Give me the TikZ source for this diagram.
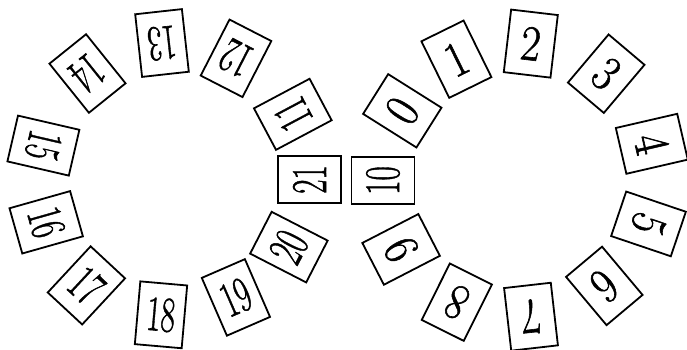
\documentclass[tikz,border=0pt]{standalone}
\usepackage{fontspec}
\usepackage{graphicx}
\newfontfamily\cardfont[FakeBold=1.2]{Latin Modern Roman}
\tikzset{
  card/.style={draw=black, line width=1.8pt, fill=white, minimum width=47pt, minimum height=63pt, inner sep=0pt, font=\cardfont\fontsize{50}{50}\selectfont},
}
\newcommand{\twod}[1]{\scalebox{0.62}[1]{#1}}
\newcommand{\oned}[1]{\scalebox{0.85}[1]{#1}}
\begin{document}
\begin{tikzpicture}[x=1pt,y=-1pt]
\useasboundingbox[fill=white] (0,0) rectangle (687,349);
% right loop
\node[card, rotate=57.8]   (c0)  at (402.3,110.8) {\oned{0}};
\node[card, rotate=26.2]   (c1)  at (456.4,59.2)  {\oned{1}};
\node[card, rotate=-6.7]   (c2)  at (530.8,43.6)  {\oned{2}};
\node[card, rotate=-40.2]  (c3)  at (606.2,73.7)  {\oned{3}};
\node[card, rotate=-77]    (c4)  at (651.8,143.8) {\oned{4}};
\node[card, rotate=-108.7] (c5)  at (648.5,223.9) {\oned{5}};
\node[card, rotate=-140]   (c6)  at (604.3,285.9) {\oned{6}};
\node[card, rotate=-173.5] (c7)  at (531,316.7)   {\oned{7}};
\node[card, rotate=153.5]  (c8)  at (456.8,302.2) {\oned{8}};
\node[card, rotate=117.3]  (c9)  at (401.1,249.4) {\oned{9}};
\node[card, rotate=90]     (c10) at (383,180.5)   {\twod{10}};
% left loop
\node[card, rotate=118]    (c11) at (292.8,114.3) {\twod{11}};
\node[card, rotate=152.8]  (c12) at (236,58.3)    {\twod{12}};
\node[card, rotate=-173.7] (c13) at (162,43)      {\twod{13}};
\node[card, rotate=-141.2] (c14) at (87.5,73.5)   {\twod{14}};
\node[card, rotate=-103]   (c15) at (43.4,145.6)  {\twod{15}};
\node[card, rotate=-74.2]  (c16) at (46.2,222.3)  {\twod{16}};
\node[card, rotate=-42.9]  (c17) at (86.4,285.4)  {\twod{17}};
\node[card, rotate=-5]     (c18) at (161,314.8)   {\twod{18}};
\node[card, rotate=23.5]   (c19) at (235.9,297.4) {\twod{19}};
\node[card, rotate=62.8]   (c20) at (288.9,247.1) {\twod{20}};
\node[card, rotate=90]     (c21) at (309.5,179.5) {\twod{21}};
\end{tikzpicture}
\end{document}
